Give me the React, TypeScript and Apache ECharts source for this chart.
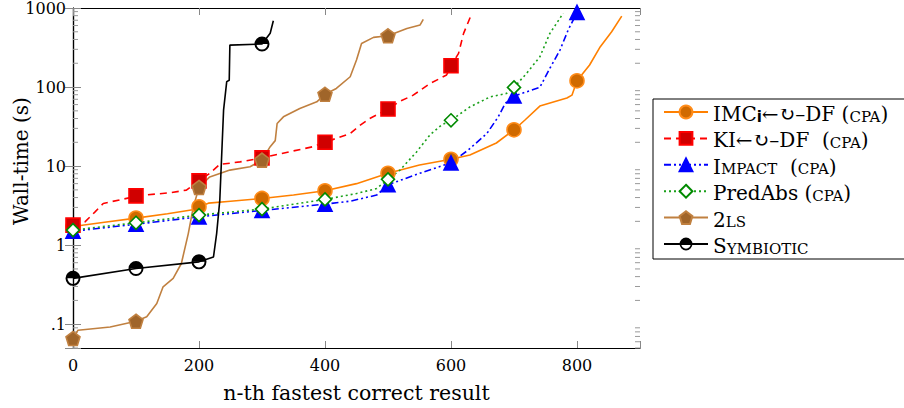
import { useEffect, useRef } from 'react';
import * as echarts from 'echarts';

// ---------- data ----------
const imcN = [0, 50, 100, 150, 190, 200, 215, 250, 300, 350, 400, 450, 500, 550, 600, 630, 672, 700, 717, 741, 784, 792, 800, 820, 837, 855, 871];
const imcV = [1.72, 1.95, 2.2, 2.5, 2.8, 3.05, 3.4, 3.6, 3.9, 4.3, 4.87, 6.0, 8.1, 10.3, 12.2, 13.8, 19.6, 28.8, 38, 57.5, 72.6, 79, 120, 190, 324, 500, 790];

const kiN = [0, 19, 35, 48, 96, 100, 154, 180, 200, 217, 233, 265, 300, 344, 381, 400, 440, 456, 471, 500, 519, 540, 567, 593, 600, 612, 620, 631];
const kiV = [1.79, 1.97, 2.64, 3.37, 4.08, 4.2, 4.6, 4.97, 6.5, 8.1, 10.5, 11.3, 12.7, 15.2, 17.6, 20, 25.9, 33, 40, 52.7, 66, 79, 111, 142, 186, 267, 478, 778];

const impactN = [0, 100, 200, 300, 400, 440, 482, 500, 550, 600, 627, 657, 675, 686, 700, 741, 757, 773, 786, 800];
const impactV = [1.5, 1.84, 2.28, 2.75, 3.3, 3.6, 4.3, 5.8, 8.1, 11, 15.9, 25.9, 42, 62, 77, 99, 173, 294, 527, 880];

const predN = [0, 100, 200, 300, 400, 450, 482, 500, 519, 545, 567, 585, 600, 630, 662, 688, 700, 720, 741, 757, 778];
const predV = [1.55, 1.92, 2.4, 2.86, 3.79, 4.5, 5.2, 6.8, 8.9, 15, 25, 33, 38, 56, 75, 83, 99, 149, 241, 478, 855];

const twoLsN = [0, 8, 59, 100, 117, 133, 143, 159, 172, 183, 191, 200, 217, 249, 281, 300, 313, 321, 324, 334, 360, 387, 400, 418, 440, 450, 458, 477, 500, 530, 551, 556];
const twoLsV = [0.066, 0.084, 0.092, 0.109, 0.124, 0.183, 0.297, 0.38, 0.586, 1.4, 3.05, 5.37, 7.3, 8.9, 9.8, 11.9, 17.6, 21, 34.6, 42, 53.6, 65, 81, 96, 135, 220, 355, 425, 445, 552, 610, 720];

const symN = [0, 100, 200, 223, 228, 233, 239, 244, 248, 249, 300, 313, 318];
const symV = [0.38, 0.507, 0.615, 0.71, 1.4, 3.7, 51, 117, 122, 339, 350, 480, 690];

const xTickValues = [0, 200, 400, 600, 800];
const yTickValues = [0.1, 1, 10, 100, 1000];
const yTickLabels = ['.1', '1', '10', '100', '1000'];
const yMinorValues = [0.05, 0.06, 0.07, 0.08, 0.09, 0.2, 0.3, 0.4, 0.5, 0.6, 0.7, 0.8, 0.9, 2, 3, 4, 5, 6, 7, 8, 9, 20, 30, 40, 50, 60, 70, 80, 90, 200, 300, 400, 500, 600, 700, 800, 900];

const seriesNames = ['IMC', 'KI', 'Impact', 'PredAbs', '2LS', 'Symbiotic'];

const FONT = 'DejaVu Serif';
const X_MIN = 0;
const X_MAX = 900;
const Y_MIN = 0.05;
const Y_MAX = 1000;

const PENTAGON = 'path://M10,0 L19.51,6.91 L15.88,18.09 L4.12,18.09 L0.49,6.91 Z';
const HALFCIRCLE =
  'path://M0,10 A10,10 0 1,1 20,10 A10,10 0 1,1 0,10 Z M2.6,10 A7.4,7.4 0 1,0 17.4,10 A7.4,7.4 0 1,0 2.6,10 Z M2.6,10 A7.4,7.4 0 0,1 17.4,10 Z';

function toData(ns: number[], vs: number[]) {
  return ns.map((n, i) => ({
    value: [n, vs[i]],
    symbol: n % 100 === 0 ? undefined : 'none',
  }));
}

const legendLabels: Record<string, string> = {
  IMC: '{n|IMC}{b|i}{n|←↻–DF }{n|(}{s|CPA}{n|)}',
  KI: '{n|KI←↻–DF  (}{s|CPA}{n|)}',
  Impact: '{n|I}{s|MPACT}{n|  (}{s|CPA}{n|)}',
  PredAbs: '{n|PredAbs (}{s|CPA}{n|)}',
  '2LS': '{n|2}{s|LS}',
  Symbiotic: '{n|S}{s|YMBIOTIC}',
};

export default function App() {
  const ref = useRef<HTMLDivElement>(null);

  useEffect(() => {
    if (!ref.current) return;
    const chart = echarts.init(ref.current, undefined, { renderer: 'svg' });

    const lineBase = (name: string, color: string, type: any, symbol: string, size: number, fill: string, border: string, ns: number[], vs: number[]) => ({
      name,
      type: 'line',
      xAxisIndex: 0,
      yAxisIndex: 0,
      data: toData(ns, vs),
      symbol,
      symbolSize: size,
      showSymbol: true,
      clip: false,
      lineStyle: { color, width: 1.6, type },
      itemStyle: { color: fill, borderColor: border, borderWidth: 1.6, opacity: 1 },
      emphasis: { disabled: true },
    });

    const option: any = {
      animation: false,
      grid: { left: 73, right: 264, top: 8, bottom: 60, containLabel: false, outerBoundsMode: 'none' },
      legend: {
        data: seriesNames,
        orient: 'vertical',
        left: 653,
        top: 99,
        padding: [5, 36, 3, 10],
        itemGap: 6.4,
        itemWidth: 44,
        itemHeight: 16,
        borderColor: '#000',
        borderWidth: 1,
        borderRadius: 0,
        selectedMode: false,
        formatter: (name: string) => legendLabels[name],
        textStyle: {
          fontFamily: FONT,
          color: '#000',
          rich: {
            n: { fontFamily: FONT, fontSize: 20, color: '#000', lineHeight: 24, verticalAlign: 'bottom' },
            s: { fontFamily: FONT, fontSize: 15, color: '#000', lineHeight: 21, verticalAlign: 'bottom' },
            b: { fontFamily: 'DejaVu Sans', fontWeight: 'bold', fontSize: 15, color: '#000', lineHeight: 21, verticalAlign: 'bottom' },
          },
        },
      },
      xAxis: [
        {
          type: 'value',
          min: X_MIN,
          max: X_MAX,
          interval: 200,
          position: 'bottom',
          name: 'n-th fastest correct result',
          nameLocation: 'middle',
          nameGap: 34,
          nameMoveOverlap: false,
          nameTextStyle: { fontFamily: FONT, fontSize: 20.5, color: '#000' },
          axisLine: { show: true, lineStyle: { color: '#000', width: 1.2 } },
          axisTick: { show: true, inside: true, length: 7, lineStyle: { color: '#888' } },
          axisLabel: {
            fontFamily: FONT,
            fontSize: 16,
            color: '#000',
            margin: 9,
            formatter: (v: number) => (xTickValues.includes(v) ? String(v) : ''),
          },
          splitLine: { show: false },
        },
        {
          type: 'value',
          min: X_MIN,
          max: X_MAX,
          interval: 200,
          position: 'top',
          axisLine: { show: true, lineStyle: { color: '#000', width: 1.2 } },
          axisTick: { show: true, inside: true, length: 7, lineStyle: { color: '#888' } },
          axisLabel: { show: false },
          splitLine: { show: false },
        },
      ],
      yAxis: [
        {
          type: 'log',
          logBase: 10,
          min: Y_MIN,
          max: Y_MAX,
          position: 'left',
          name: 'Wall-time (s)',
          nameLocation: 'middle',
          nameGap: 42,
          nameMoveOverlap: false,
          nameTextStyle: { fontFamily: FONT, fontSize: 20, color: '#000', padding: [0, 0, 0, 34] },
          axisLine: { show: true, lineStyle: { color: '#000', width: 1.2 } },
          axisTick: { show: true, inside: true, length: 8, lineStyle: { color: '#888' } },
          axisLabel: {
            fontFamily: FONT,
            fontSize: 16,
            color: '#000',
            margin: 7,
            formatter: (v: number) => {
              for (let i = 0; i < yTickValues.length; i++) {
                if (Math.abs(Math.log10(v) - Math.log10(yTickValues[i])) < 1e-6) return yTickLabels[i];
              }
              return '';
            },
          },
          splitLine: { show: false },
        },
        {
          type: 'log',
          logBase: 10,
          min: Y_MIN,
          max: Y_MAX,
          position: 'right',
          axisLine: { show: true, lineStyle: { color: '#000', width: 1.2 } },
          axisTick: { show: true, inside: true, length: 8, lineStyle: { color: '#888' } },
          axisLabel: { show: false },
          splitLine: { show: false },
        },
      ],
      series: [
        {
          name: 'minorTicks',
          type: 'custom',
          xAxisIndex: 0,
          yAxisIndex: 0,
          silent: true,
          clip: false,
          data: yMinorValues.map((v) => [X_MIN, v]),
          renderItem: (_params: any, api: any) => {
            const v = api.value(1);
            const l = api.coord([X_MIN, v]);
            const r = api.coord([X_MAX, v]);
            return {
              type: 'group',
              children: [
                { type: 'line', shape: { x1: l[0], y1: l[1], x2: l[0] + 5, y2: l[1] }, style: { stroke: '#999', lineWidth: 1 } },
                { type: 'line', shape: { x1: r[0] - 5, y1: r[1], x2: r[0], y2: r[1] }, style: { stroke: '#999', lineWidth: 1 } },
              ],
            };
          },
        },
        lineBase('IMC', '#ff8000', 'solid', 'circle', 14, '#d06a00', '#ff8c1a', imcN, imcV),
        lineBase('KI', '#ff0000', [7, 5], 'rect', 14, '#d00000', '#ff0000', kiN, kiV),
        lineBase('Impact', '#0000ff', [7, 3, 2, 3, 2, 3], 'triangle', 14, '#0000ff', '#0000ff', impactN, impactV),
        lineBase('PredAbs', '#1aa01a', [2, 3], 'diamond', 13, '#ffffff', '#008a00', predN, predV),
        lineBase('2LS', '#c08040', 'solid', PENTAGON, 14, '#a0652a', '#c08040', twoLsN, twoLsV),
        {
          ...lineBase('Symbiotic', '#000000', 'solid', HALFCIRCLE, 15, '#000000', '#000000', symN, symV),
          itemStyle: { color: '#000000', borderWidth: 0, opacity: 1 },
        },
      ],
    };

    chart.setOption(option);
    return () => chart.dispose();
  }, []);

  return <div ref={ref} style={{ position: 'fixed', left: 0, top: 0, width: 904, height: 408, background: '#fff' }} />;
}
